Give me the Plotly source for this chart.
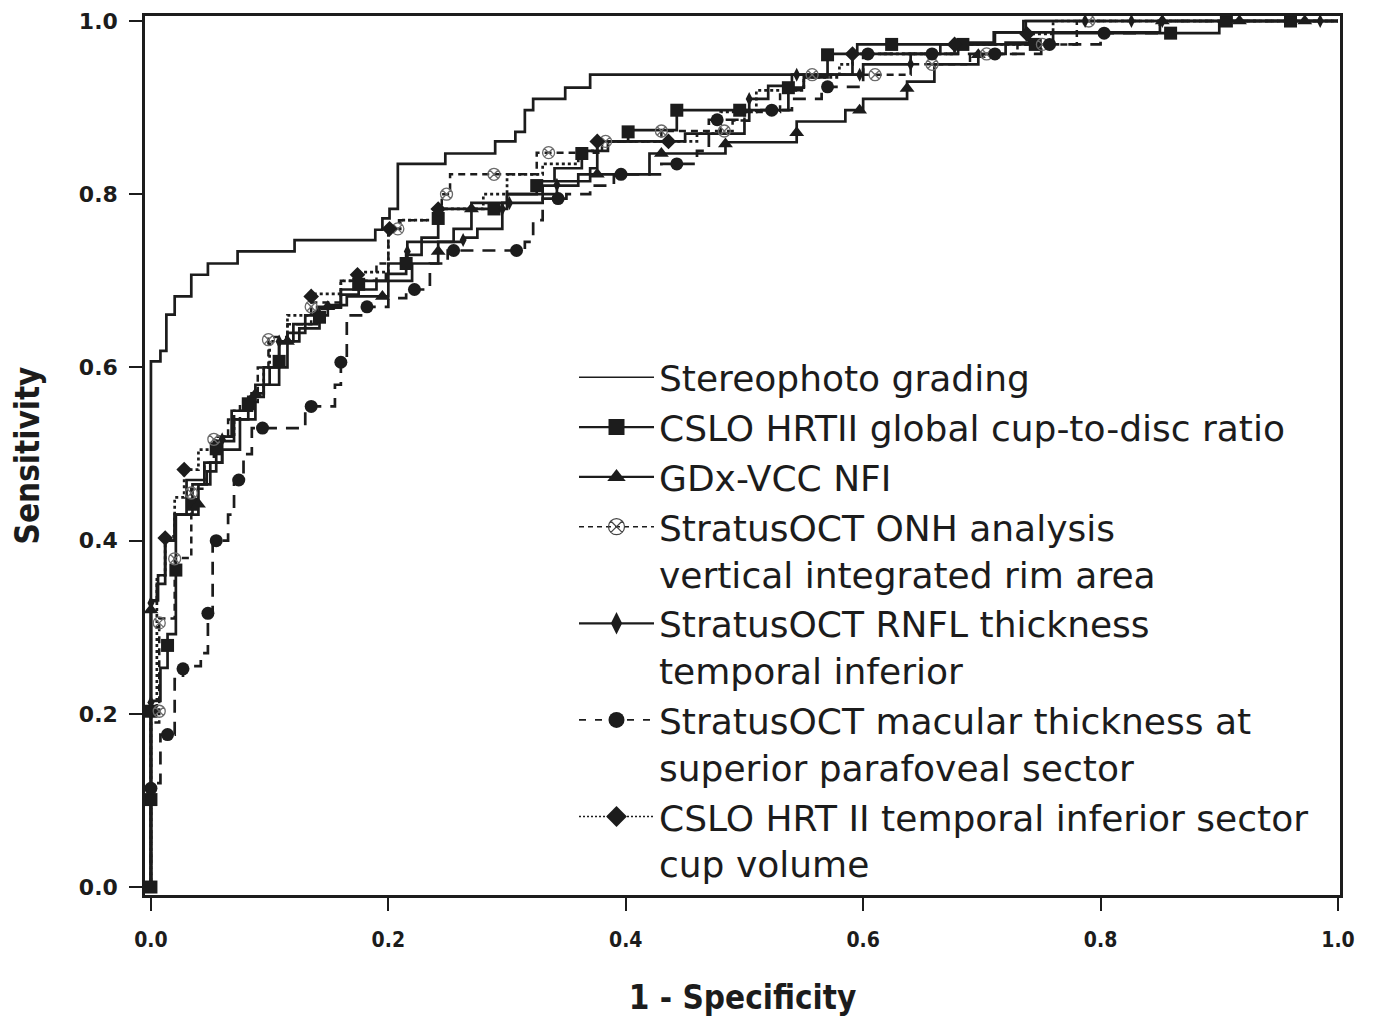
import numpy as np
import plotly.graph_objects as go

# ---------------- data ----------------
# ROC operating points; curve drawn as a step (horizontal then vertical)
SP_X = [0, 0, 0.008, 0.013, 0.020, 0.034, 0.048, 0.073, 0.121, 0.189, 0.195, 0.201, 0.208, 0.248,
        0.290, 0.307, 0.315, 0.322, 0.349, 0.370, 0.591, 0.665, 0.711, 0.737, 1.0]
SP_Y = [0, 0.607, 0.619, 0.661, 0.682, 0.707, 0.720, 0.734, 0.747, 0.759, 0.772, 0.783, 0.835, 0.847,
        0.861, 0.872, 0.897, 0.910, 0.923, 0.938, 0.962, 0.973, 0.987, 1.0, 1.0]

SQ_X = [0, 0, 0.008, 0.014, 0.021, 0.035, 0.047, 0.055, 0.070, 0.082, 0.095, 0.108, 0.125, 0.142,
        0.160, 0.175, 0.198, 0.215, 0.228, 0.242, 0.300, 0.325, 0.340, 0.363, 0.385, 0.402, 0.443,
        0.537, 0.550, 0.570, 0.595, 0.760, 0.900, 1.0]
SQ_Y = [0, 0.215, 0.253, 0.292, 0.430, 0.465, 0.480, 0.515, 0.540, 0.566, 0.580, 0.630, 0.645, 0.669,
        0.684, 0.700, 0.708, 0.730, 0.750, 0.783, 0.800, 0.815, 0.830, 0.850, 0.861, 0.874, 0.897,
        0.923, 0.935, 0.962, 0.973, 0.986, 1.0, 1.0]
SQ_MX = [0, 0, 0, 0.014, 0.021, 0.035, 0.055, 0.082, 0.108, 0.142, 0.175, 0.215, 0.242, 0.289,
         0.325, 0.363, 0.402, 0.443, 0.496, 0.537, 0.570, 0.624, 0.684, 0.745, 0.859, 0.906, 0.960]
SQ_MY = [0, 0.101, 0.203, 0.279, 0.366, 0.442, 0.506, 0.558, 0.607, 0.658, 0.696, 0.720, 0.772, 0.783,
         0.810, 0.847, 0.872, 0.897, 0.897, 0.923, 0.961, 0.973, 0.973, 0.973, 0.986, 1.0, 1.0]

TR_X = [0, 0, 0.006, 0.012, 0.020, 0.040, 0.050, 0.060, 0.075, 0.088, 0.100, 0.115, 0.130, 0.149,
        0.165, 0.200, 0.220, 0.242, 0.255, 0.270, 0.300, 0.330, 0.360, 0.420, 0.484, 0.544, 0.585,
        0.600, 0.637, 0.660, 0.697, 0.720, 0.740, 0.850, 1.0]
TR_Y = [0, 0.331, 0.360, 0.400, 0.430, 0.465, 0.490, 0.505, 0.540, 0.580, 0.600, 0.640, 0.660, 0.672,
        0.682, 0.700, 0.720, 0.745, 0.760, 0.790, 0.800, 0.810, 0.823, 0.847, 0.860, 0.884, 0.897,
        0.910, 0.930, 0.950, 0.962, 0.975, 0.987, 1.0, 1.0]
TR_MX = [0.0, 0.040, 0.088, 0.115, 0.149, 0.195, 0.242, 0.270, 0.376, 0.430, 0.484, 0.544, 0.597,
         0.637, 0.697, 0.852, 0.917, 0.972]
TR_MY = [0.320, 0.442, 0.569, 0.630, 0.670, 0.682, 0.734, 0.783, 0.823, 0.847, 0.858, 0.871, 0.897,
         0.922, 0.961, 1.0, 1.0, 1.0]

ON_X = [0, 0, 0.007, 0.020, 0.034, 0.045, 0.053, 0.065, 0.075, 0.090, 0.099, 0.115, 0.135, 0.160,
        0.190, 0.200, 0.209, 0.245, 0.252, 0.325, 0.380, 0.430, 0.490, 0.500, 0.530, 0.550, 0.640,
        0.690, 0.730, 0.780, 1.0]
ON_Y = [0, 0.190, 0.310, 0.380, 0.460, 0.490, 0.520, 0.540, 0.560, 0.600, 0.635, 0.650, 0.675, 0.700,
        0.720, 0.760, 0.770, 0.800, 0.823, 0.848, 0.861, 0.873, 0.885, 0.895, 0.920, 0.938, 0.950,
        0.962, 0.973, 1.0, 1.0]
ON_MX = [0.007, 0.007, 0.020, 0.034, 0.053, 0.099, 0.135, 0.208, 0.249, 0.289, 0.335, 0.383, 0.430,
         0.483, 0.557, 0.610, 0.658, 0.704, 0.751, 0.790]
ON_MY = [0.203, 0.305, 0.379, 0.455, 0.517, 0.632, 0.670, 0.759, 0.797, 0.823, 0.848, 0.861, 0.873,
         0.873, 0.938, 0.937, 0.949, 0.962, 0.973, 1.0]

RN_X = [0, 0, 0.005, 0.012, 0.020, 0.030, 0.045, 0.060, 0.068, 0.085, 0.095, 0.108, 0.120, 0.140,
        0.160, 0.190, 0.200, 0.216, 0.263, 0.275, 0.296, 0.330, 0.342, 0.370, 0.376, 0.450, 0.500,
        0.504, 0.520, 0.540, 0.600, 0.640, 0.680, 0.710, 0.735, 1.0]
RN_Y = [0, 0.330, 0.350, 0.400, 0.430, 0.470, 0.490, 0.520, 0.550, 0.570, 0.600, 0.630, 0.650, 0.670,
        0.690, 0.700, 0.720, 0.745, 0.750, 0.760, 0.790, 0.800, 0.815, 0.830, 0.861, 0.870, 0.885,
        0.910, 0.925, 0.938, 0.950, 0.962, 0.975, 0.987, 1.0, 1.0]
RN_MX = [0, 0, 0.062, 0.108, 0.216, 0.263, 0.296, 0.302, 0.342, 0.376, 0.436, 0.504, 0.544, 0.597,
         0.644, 0.787, 0.826, 0.852, 0.985]
RN_MY = [0.213, 0.328, 0.517, 0.630, 0.734, 0.747, 0.783, 0.783, 0.811, 0.861, 0.861, 0.910, 0.938,
         0.938, 0.949, 1.0, 1.0, 1.0, 1.0]

MC_X = [0, 0, 0.008, 0.020, 0.027, 0.042, 0.048, 0.052, 0.065, 0.070, 0.078, 0.085, 0.130, 0.155,
        0.160, 0.165, 0.180, 0.200, 0.215, 0.235, 0.250, 0.315, 0.322, 0.330, 0.350, 0.370, 0.390,
        0.430, 0.460, 0.470, 0.500, 0.540, 0.565, 0.600, 0.750, 0.800, 0.850, 1.0]
MC_Y = [0, 0.120, 0.176, 0.240, 0.255, 0.270, 0.320, 0.400, 0.430, 0.470, 0.500, 0.530, 0.555, 0.580,
        0.610, 0.660, 0.670, 0.680, 0.690, 0.720, 0.735, 0.745, 0.770, 0.795, 0.800, 0.810, 0.823,
        0.835, 0.850, 0.886, 0.897, 0.910, 0.924, 0.962, 0.973, 0.986, 1.0, 1.0]
MC_MX = [0, 0.014, 0.027, 0.048, 0.055, 0.074, 0.094, 0.135, 0.162, 0.182, 0.222, 0.255, 0.308,
         0.343, 0.396, 0.443, 0.477, 0.523, 0.570, 0.604, 0.658, 0.711, 0.757, 0.803]
MC_MY = [0.114, 0.176, 0.252, 0.316, 0.404, 0.468, 0.530, 0.556, 0.606, 0.670, 0.696, 0.734, 0.734,
         0.796, 0.823, 0.835, 0.886, 0.897, 0.924, 0.962, 0.962, 0.962, 0.973, 0.986]

HR_X = [0, 0, 0.005, 0.012, 0.020, 0.028, 0.040, 0.055, 0.070, 0.085, 0.095, 0.100, 0.115, 0.135,
        0.160, 0.174, 0.200, 0.210, 0.242, 0.280, 0.300, 0.330, 0.360, 0.376, 0.460, 0.480, 0.510,
        0.550, 0.580, 0.591, 0.677, 0.738, 0.760, 1.0]
HR_Y = [0, 0.200, 0.360, 0.405, 0.450, 0.482, 0.505, 0.520, 0.550, 0.570, 0.600, 0.630, 0.660, 0.685,
        0.700, 0.710, 0.760, 0.770, 0.783, 0.800, 0.823, 0.835, 0.850, 0.861, 0.870, 0.895, 0.920,
        0.935, 0.950, 0.962, 0.973, 0.985, 1.0, 1.0]
HR_MX = [0.012, 0.028, 0.135, 0.174, 0.201, 0.242, 0.376, 0.436, 0.591, 0.677, 0.738]
HR_MY = [0.403, 0.482, 0.682, 0.707, 0.759, 0.783, 0.861, 0.861, 0.962, 0.973, 0.985]

NAMES = ["Stereophoto grading",
         "CSLO HRTII global cup-to-disc ratio",
         "GDx-VCC NFI",
         "StratusOCT ONH analysis<br>vertical integrated rim area",
         "StratusOCT RNFL thickness<br>temporal inferior",
         "StratusOCT macular thickness at<br>superior parafoveal sector",
         "CSLO HRT II temporal inferior sector<br>cup volume"]

TICKS = [0.0, 0.2, 0.4, 0.6, 0.8, 1.0]
TICK_TEXT = ["0.0", "0.2", "0.4", "0.6", "0.8", "1.0"]

XR = [-0.005, 1.0017]
YR = [-0.0092, 1.0058]
# the page adds an 8px body margin, so the figure is drawn 8px smaller each way
W, H = 1365, 1011
ML, MR, MT, MB = 137, 33, 8, 124
PW = (W - ML - MR) / (XR[1] - XR[0])
PH = (H - MT - MB) / (YR[1] - YR[0])


def snap(mx, my, sx, sy):
    """Place each marker on the nearest point of the step curve."""
    vx, vy = [sx[0]], [sy[0]]
    for i in range(1, len(sx)):
        vx += [sx[i], sx[i]]
        vy += [sy[i - 1], sy[i]]
    vx = np.array(vx) * PW
    vy = np.array(vy) * PH
    ox, oy = [], []
    for x, y in zip(mx, my):
        X, Y = x * PW, y * PH
        best = None
        for j in range(len(vx) - 1):
            ax, ay, bx, by = vx[j], vy[j], vx[j + 1], vy[j + 1]
            dx, dy = bx - ax, by - ay
            L = dx * dx + dy * dy
            t = 0.0 if L == 0 else max(0.0, min(1.0, ((X - ax) * dx + (Y - ay) * dy) / L))
            cx, cy = ax + t * dx, ay + t * dy
            d = (cx - X) ** 2 + (cy - Y) ** 2
            if best is None or d < best[0]:
                best = (d, cx / PW, cy / PH)
        ox.append(best[1])
        oy.append(best[2])
    return ox, oy


INK = "#1c1c1c"
series = [
    dict(x=SP_X, y=SP_Y, mx=None, my=None, dash="solid", width=2.7, sym=None),
    dict(x=SQ_X, y=SQ_Y, mx=SQ_MX, my=SQ_MY, dash="solid", width=2.7, sym="square", size=13),
    dict(x=TR_X, y=TR_Y, mx=TR_MX, my=TR_MY, dash="solid", width=2.7, sym="triangle-up", size=13),
    dict(x=ON_X, y=ON_Y, mx=ON_MX, my=ON_MY, dash="7px,5px", width=2.5, sym="circle-x-open", size=12),
    dict(x=RN_X, y=RN_Y, mx=RN_MX, my=RN_MY, dash="solid", width=2.7, sym="diamond-tall", size=10),
    dict(x=MC_X, y=MC_Y, mx=MC_MX, my=MC_MY, dash="13px,9px", width=2.7, sym="circle", size=13),
    dict(x=HR_X, y=HR_Y, mx=HR_MX, my=HR_MY, dash="3px,3px", width=2.7, sym="diamond", size=12),
]
LEG_DASH = ["solid", "solid", "solid", "5px,4px", "solid", "7px,9px", "2px,2px"]

fig = go.Figure()
for s in series:
    fig.add_trace(go.Scatter(x=s["x"], y=s["y"], mode="lines", line_shape="hv",
                             line=dict(color=INK, width=s["width"], dash=s["dash"]),
                             showlegend=False, hoverinfo="skip"))
for s in series:
    if s["mx"] is None:
        continue
    px, py = snap(s["mx"], s["my"], s["x"], s["y"])
    if s["sym"] == "circle-x-open":
        mk = dict(symbol=s["sym"], size=s["size"], color="#6a6a6a", line=dict(width=1.3, color="#6a6a6a"))
    else:
        mk = dict(symbol=s["sym"], size=s["size"], color=INK, line=dict(width=0))
    fig.add_trace(go.Scatter(x=px, y=py, mode="markers", marker=mk, showlegend=False, hoverinfo="skip"))

# legend entries
for s, name, ld in zip(series, NAMES, LEG_DASH):
    if s["sym"] is None:
        fig.add_trace(go.Scatter(x=[None], y=[None], mode="lines", name=name,
                                 line=dict(color=INK, width=1.6)))
    else:
        if s["sym"] == "circle-x-open":
            mk = dict(symbol=s["sym"], size=20, color="#444", line=dict(width=1.2, color="#444"))
        else:
            mk = dict(symbol=s["sym"], size=20, color=INK, line=dict(width=0))
        fig.add_trace(go.Scatter(x=[None], y=[None], mode="lines+markers", name=name,
                                 line=dict(color=INK, width=2.2 if ld == "solid" else 1.6, dash=ld),
                                 marker=mk))

axis_common = dict(showgrid=False, zeroline=False, showline=True, mirror=True, automargin=False,
                   linecolor=INK, linewidth=2.5, ticks="outside", ticklen=13, tickwidth=2.2,
                   tickcolor=INK, tickvals=TICKS, ticktext=TICK_TEXT, ticklabeloverflow="allow")

fig.update_layout(
    width=W, height=H,
    margin=dict(l=ML, r=MR, t=MT, b=MB, autoexpand=False),
    plot_bgcolor="white", paper_bgcolor="white",
    xaxis=dict(range=XR, **axis_common,
               tickfont=dict(family="DejaVu Sans Condensed", size=21, color=INK, weight="bold"),
               ticklabelstandoff=11,
               title=dict(text="1 - Specificity", standoff=35,
                          font=dict(family="DejaVu Sans Condensed", size=33, color=INK, weight="bold"))),
    yaxis=dict(range=YR, **axis_common,
               tickfont=dict(family="DejaVu Sans", size=22, color=INK, weight="bold"),
               ticklabelstandoff=7,
               title=dict(text="Sensitivity", standoff=31,
                          font=dict(family="DejaVu Sans Condensed", size=33, color=INK, weight="bold"))),
    legend=dict(x=0.359, y=0.623, xanchor="left", yanchor="top",
                font=dict(family="DejaVu Sans", size=36, color=INK),
                bgcolor="rgba(0,0,0,0)", borderwidth=0, valign="top",
                itemwidth=75, tracegroupgap=0, itemsizing="trace"),
)

fig.write_html("out.html")
